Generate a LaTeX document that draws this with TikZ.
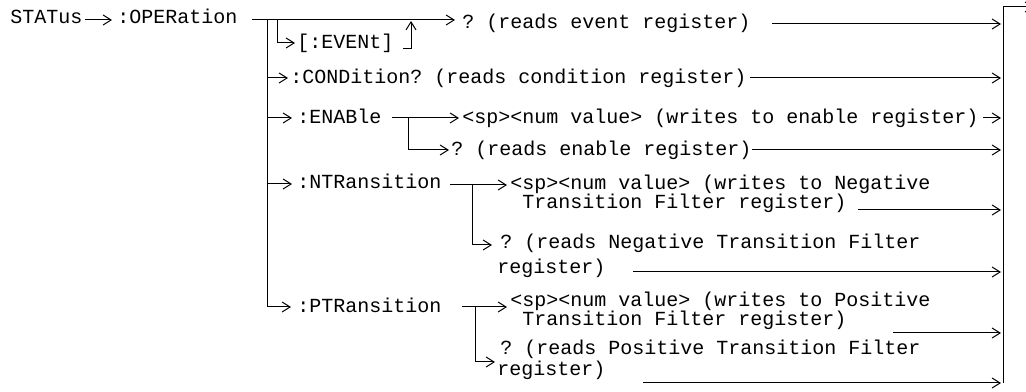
\documentclass[tikz,border=0pt]{standalone}
\usepackage{fontspec}
\setmonofont{Liberation Mono}
\usetikzlibrary{arrows.meta}
\begin{document}
\begin{tikzpicture}[x=0.75pt,y=-0.75pt,
  txt/.style={anchor=base west, inner sep=0pt, font=\ttfamily\fontsize{15}{17}\selectfont},
  ln/.style={line width=0.75pt},
  arr/.style={ln, -{Straight Barb[length=6pt,width=7.5pt]}},
  ]
\useasboundingbox (0,0) rectangle (1026,392);
% right collecting bar
\coordinate (barbot) at (1003,383);
\coordinate (bartop) at (1003,7);
\coordinate (barout) at (1034,7);
\draw[arr] (barbot) -- (bartop) -- (barout);

% row 1
\node[txt] (status) at (10,24) {STATus};
\node[txt] (oper) at (117,24) {:OPERation};
\draw[arr] (85,20) -- (112,20);
\node[txt] (evq) at (462,29) {? (reads event register)};
\draw[arr] (252,20) -- (455,20);
\draw[arr] (772,24) -- (1001,24);

% [:EVENt]
\node[txt] (event) at (297,49) {[:EVENt]};
\draw[arr] (277,20) |- (295,43);
\draw[arr] (403,49) -| (411,21);

% main vertical and PTRansition
\node[txt] (ptr) at (297,313) {:PTRansition};
\draw[arr] (267,20) |- (291,307);

% CONDition
\node[txt] (cond) at (290,84) {:CONDition? (reads condition register)};
\draw[arr] (267,78) -- (288,78);
\draw[arr] (750,78) -- (1001,78);

% ENABle
\node[txt] (ena) at (297,124) {:ENABle};
\draw[arr] (267,118) -- (292,118);
\node[txt] (enasp) at (462,124) {<sp><num value> (writes to enable register)};
\draw[arr] (983,118) -- (1001,118);
\draw[arr] (392,118) -- (459,118);
\node[txt] (enaq) at (451,156) {? (reads enable register)};
\draw[arr] (408,118) |- (449,150);
\draw[arr] (752,150) -- (1001,150);

% NTRansition
\node[txt] (ntr) at (297,189) {:NTRansition};
\draw[arr] (267,184) -- (292,184);
\node[txt] (ntrsp) at (510,190) {<sp><num value> (writes to Negative};
\node[txt] (ntrsp2) at (510,209) {~Transition Filter register)};
\draw[arr] (450,185) -- (507,185);
\draw[arr] (858,210) -- (1001,210);
\node[txt] (ntrq) at (500,249) {? (reads Negative Transition Filter};
\node[txt] (ntrq2) at (497,274) {register)};
\draw[arr] (472,185) |- (492,245);
\draw[arr] (633,272) -- (1001,272);

% PTRansition
\node[txt] (ptrsp) at (510,307) {<sp><num value> (writes to Positive};
\node[txt] (ptrsp2) at (510,326) {~Transition Filter register)};
\draw[arr] (462,307) -- (507,307);
\draw[arr] (893,333) -- (1001,333);
\node[txt] (ptrq) at (500,354) {? (reads Positive Transition Filter};
\node[txt] (ptrq2) at (497,376) {register)};
\draw[arr] (475,307) |- (495,362);
\draw[arr] (643,383) -- (1001,383);
\end{tikzpicture}
\end{document}
